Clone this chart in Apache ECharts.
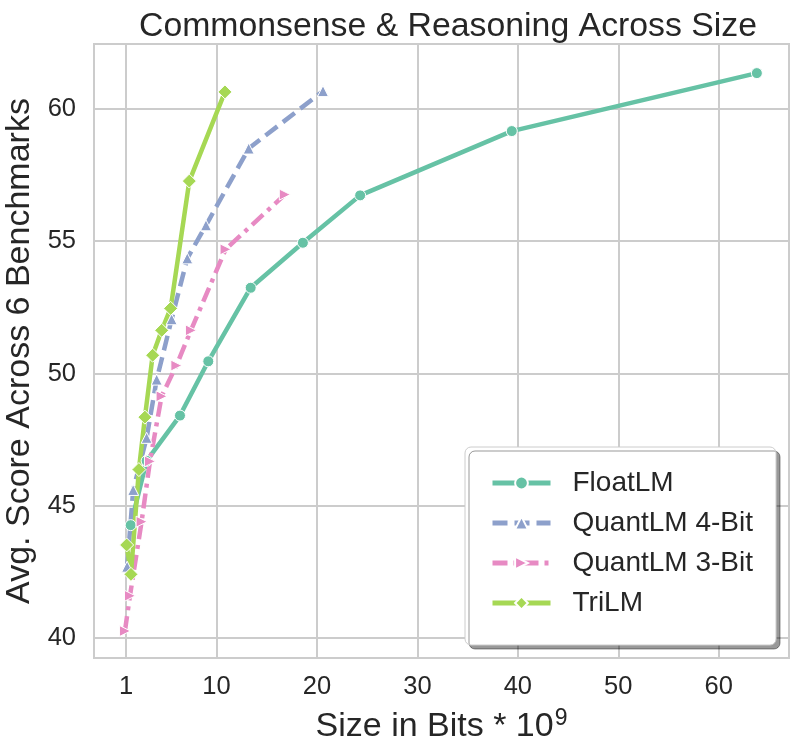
<!DOCTYPE html>
<html>
<head>
<meta charset="utf-8">
<script src="https://cdn.jsdelivr.net/npm/echarts@6/dist/echarts.min.js"></script>
<style>
  html, body { margin: 0; padding: 0; background: #fff; }
  #container { width: 800px; height: 748px; }
</style>
</head>
<body>
<div id="container"></div>
<script>
// 数据：x 为模型大小（Bits * 10^9），y 为 6 个基准的平均分
var floatX = [1.45, 3.04, 6.36, 9.18, 13.4, 18.6, 24.3, 39.4, 63.8];
var floatY = [44.27, 46.7, 48.41, 50.46, 53.24, 54.94, 56.73, 59.16, 61.35];

var quant4X = [1.1, 1.7, 3.04, 4.04, 5.53, 7.09, 8.95, 13.2, 20.6];
var quant4Y = [42.7, 45.6, 47.57, 49.77, 52.05, 54.35, 55.6, 58.5, 60.67];

var quant3X = [0.88, 1.38, 2.54, 3.37, 4.53, 6.0, 7.45, 10.9, 16.8];
var quant3Y = [40.27, 41.6, 44.4, 46.68, 49.14, 50.3, 51.63, 54.69, 56.76];

var triX = [1.05, 1.48, 2.27, 2.87, 3.64, 4.54, 5.43, 7.29, 10.84];
var triY = [43.52, 42.41, 46.37, 48.35, 50.69, 51.63, 52.46, 57.27, 60.64];

var xTicks = [1, 10, 20, 30, 40, 50, 60];
var yTicks = [40, 45, 50, 55, 60];

var seriesNames = ['FloatLM', 'QuantLM 4-Bit', 'QuantLM 3-Bit', 'TriLM'];
var colors = ['#66c2a5', '#8da0cb', '#e78ac3', '#a6d854'];

function pairs(xs, ys) {
    var out = [];
    for (var i = 0; i < xs.length; i++) {
        out.push([xs[i], ys[i]]);
    }
    return out;
}

var myChart = echarts.init(document.getElementById('container'));
var textColor = '#262626';
var gridColor = '#cccccc';

var option = {
    animation: false,
    textStyle: {fontFamily: 'Liberation Sans, Arial, sans-serif'},
    title: {
        text: 'Commonsense & Reasoning Across Size',
        left: 134,
        top: 5,
        textStyle: {fontSize: 33.8, fontWeight: 'normal', color: textColor}
    },
    grid: {
        left: 94, right: 11, top: 44, bottom: 90,
        outerBoundsMode: 'none',
        containLabel: false,
        show: true,
        borderColor: gridColor,
        borderWidth: 2
    },
    legend: {
        orient: 'vertical',
        left: 465,
        top: 447,
        data: seriesNames,
        itemWidth: 58,
        itemHeight: 16,
        itemGap: 12,
        padding: [22, 23, 28, 25],
        backgroundColor: '#ffffff',
        borderColor: '#cccccc',
        borderWidth: 1,
        borderRadius: 6,
        shadowColor: 'rgba(0,0,0,0.4)',
        shadowBlur: 0,
        shadowOffsetX: 4,
        shadowOffsetY: 4,
        lineStyle: {width: 5},
        textStyle: {fontSize: 28, color: textColor, lineHeight: 28, padding: [0, 0, 0, 17]}
    },
    xAxis: {
        type: 'value',
        min: -2.2,
        max: 67,
        name: 'Size in Bits * 10{sup|9}',
        nameLocation: 'middle',
        nameGap: 49,
        nameTextStyle: {
            fontSize: 34, color: textColor,
            rich: {sup: {fontSize: 23, color: textColor, padding: [0, 0, 16, 1]}}
        },
        axisLine: {show: false},
        axisTick: {show: false, customValues: xTicks},
        axisLabel: {fontSize: 25.5, color: textColor, margin: 16, customValues: xTicks},
        splitLine: {show: true, lineStyle: {color: gridColor, width: 2}}
    },
    yAxis: {
        type: 'value',
        min: 39.25,
        max: 62.45,
        name: 'Avg. Score Across 6 Benchmarks',
        nameLocation: 'middle',
        nameGap: 48,
        nameTextStyle: {fontSize: 34, color: textColor},
        axisLine: {show: false},
        axisTick: {show: false, customValues: yTicks},
        axisLabel: {fontSize: 25.5, color: textColor, margin: 18, customValues: yTicks},
        splitLine: {show: true, lineStyle: {color: gridColor, width: 2}}
    },
    series: [
        {
            name: seriesNames[0], type: 'line', data: pairs(floatX, floatY),
            symbol: 'circle', symbolSize: 11,
            lineStyle: {width: 4.5, color: colors[0]},
            itemStyle: {color: colors[0], borderColor: '#fff', borderWidth: 1}
        },
        {
            name: seriesNames[1], type: 'line', data: pairs(quant4X, quant4Y),
            symbol: 'triangle', symbolSize: 11,
            lineStyle: {width: 4.5, color: colors[1], type: [15, 7]},
            itemStyle: {color: colors[1], borderColor: '#fff', borderWidth: 1}
        },
        {
            name: seriesNames[2], type: 'line', data: pairs(quant3X, quant3Y),
            symbol: 'triangle', symbolRotate: -90, symbolSize: 11,
            lineStyle: {width: 4.5, color: colors[2], type: [15, 6, 4, 6]},
            itemStyle: {color: colors[2], borderColor: '#fff', borderWidth: 1}
        },
        {
            name: seriesNames[3], type: 'line', data: pairs(triX, triY),
            symbol: 'diamond', symbolSize: 14,
            lineStyle: {width: 4.5, color: colors[3]},
            itemStyle: {color: colors[3], borderColor: '#fff', borderWidth: 1}
        }
    ]
};
myChart.setOption(option, true);

window.onresize = function () {
    myChart.resize();
};
</script>
</body>
</html>
